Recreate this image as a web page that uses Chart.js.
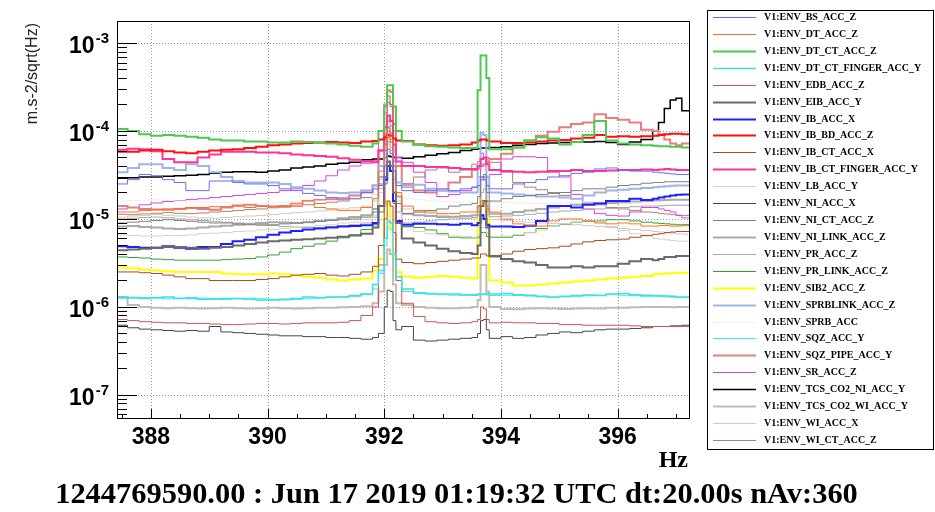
<!DOCTYPE html>
<html>
<head>
<meta charset="utf-8">
<script src="https://cdn.jsdelivr.net/npm/chart.js@4.4.1/dist/chart.umd.min.js"></script>
<style>
  html, body { margin: 0; padding: 0; background: #fff; }
  canvas { display: block; }
</style>
</head>
<body>
<canvas id="spectrum" width="935" height="512"></canvas>
<script>
// ASD of the V1 environmental accelerometers, 387.4 - 397.2 Hz.
// Bin left edges in Hz: 0.2 Hz bins, finer around the 392.1 and 393.7 Hz lines.
const FREQ = [
  387.42, 387.6, 387.8, 388.0, 388.2, 388.4, 388.6, 388.8, 389.0, 389.2, 389.4, 389.6,
  389.8, 390.0, 390.2, 390.4, 390.6, 390.8, 391.0, 391.2, 391.4, 391.6, 391.8,
  391.9, 392.0, 392.05, 392.1, 392.15, 392.2,
  392.3, 392.5, 392.7, 392.9, 393.1, 393.3, 393.5,
  393.6, 393.65, 393.7, 393.75, 393.8,
  394.0, 394.2, 394.4, 394.6, 394.8, 395.0, 395.2, 395.4, 395.6, 395.8, 396.0, 396.2,
  396.4, 396.6, 396.7, 396.8, 396.9, 397.0, 397.1
];
const FREQ_END = 397.24;
const UNIT = 1e-6; // amplitudes below are in 1e-6 m.s-2/sqrt(Hz)

const X_TICKS = [388, 390, 392, 394, 396];
const Y_DECADES = [1e-7, 1e-6, 1e-5, 1e-4, 1e-3];

const CHANNELS = [
  'V1:ENV_BS_ACC_Z', 'V1:ENV_DT_ACC_Z', 'V1:ENV_DT_CT_ACC_Z', 'V1:ENV_DT_CT_FINGER_ACC_Y',
  'V1:ENV_EDB_ACC_Z', 'V1:ENV_EIB_ACC_Y', 'V1:ENV_IB_ACC_X', 'V1:ENV_IB_BD_ACC_Z',
  'V1:ENV_IB_CT_ACC_X', 'V1:ENV_IB_CT_FINGER_ACC_Y', 'V1:ENV_LB_ACC_Y', 'V1:ENV_NI_ACC_X',
  'V1:ENV_NI_CT_ACC_Z', 'V1:ENV_NI_LINK_ACC_Z', 'V1:ENV_PR_ACC_Z', 'V1:ENV_PR_LINK_ACC_Z',
  'V1:ENV_SIB2_ACC_Z', 'V1:ENV_SPRBLINK_ACC_Z', 'V1:ENV_SPRB_ACC', 'V1:ENV_SQZ_ACC_Y',
  'V1:ENV_SQZ_PIPE_ACC_Y', 'V1:ENV_SR_ACC_Z', 'V1:ENV_TCS_CO2_NI_ACC_Y', 'V1:ENV_TCS_CO2_WI_ACC_Y',
  'V1:ENV_WI_ACC_X', 'V1:ENV_WI_CT_ACC_Z'
];

const BS_ACC_Z = [
  25, 28, 32, 31, 28, 26, 21, 21, 27, 27, 26, 25, 25, 24, 22, 21, 19.5, 18.5, 17.5, 16.5, 17, 20, 22,
  24, 40, 62, 55, 35, 24,
  21, 20, 21, 22, 21, 22, 23,
  24, 30, 28, 24, 22,
  22, 25, 26, 28, 30, 31, 33, 34, 37, 38, 36, 35, 35, 34, 33.5, 33, 32.5, 32, 32
];
const DT_ACC_Z = [
  12, 12, 12.5, 12.7, 13, 13.2, 13.5, 13.5, 13.8, 13.8, 14, 13.5, 14, 14, 14, 14, 16, 13.5, 13, 12.5, 12.5, 13.5, 17,
  35, 70, 100, 80, 40, 20,
  14, 12.5, 12, 11.5, 11.5, 12, 12,
  14, 16, 15, 13, 12,
  10, 8.8, 8.5, 8.3, 9.5, 10, 10, 9.5, 9, 8.8, 9, 8.8, 8.3, 8.3, 8.4, 8.4, 8.3, 8.3, 8.4
];
const DT_CT_ACC_Z = [
  105, 100, 92, 88, 90, 88, 86, 84, 80, 78, 78, 76, 76, 74, 74, 76, 75, 73, 72, 70, 68, 66, 72,
  100, 190, 330, 330, 190, 100,
  76, 70, 67, 66, 65, 64, 64,
  290, 720, 720, 400, 62,
  62, 65, 78, 85, 82, 70, 75, 90, 130, 78, 72, 70, 69, 68, 67, 67, 66, 66, 65
];
const DT_CT_FINGER_ACC_Y = [
  1.3, 1.28, 1.25, 1.28, 1.3, 1.25, 1.25, 1.22, 1.22, 1.25, 1.25, 1.22, 1.2, 1.2, 1.22, 1.25, 1.3, 1.28, 1.3, 1.3, 1.35, 1.4, 1.8,
  2.6, 6, 9.5, 9, 4, 2.2,
  1.6, 1.45, 1.42, 1.4, 1.4, 1.38, 1.38,
  1.4, 1.4, 1.4, 1.42, 1.4,
  1.42, 1.38, 1.36, 1.32, 1.3, 1.32, 1.35, 1.37, 1.35, 1.4, 1.42, 1.38, 1.36, 1.35, 1.34, 1.33, 1.32, 1.3, 1.3
];
const EDB_ACC_Z = [
  0.72, 0.7, 0.68, 0.67, 0.66, 0.66, 0.65, 0.65, 0.64, 0.63, 0.63, 0.64, 0.65, 0.65, 0.64, 0.65, 0.66, 0.66, 0.66, 0.67, 0.7, 0.8, 1.0,
  3, 40, 250, 200, 20, 2,
  1.1, 0.78, 0.68, 0.66, 0.65, 0.66, 0.68,
  0.72, 1.0, 0.95, 0.72, 0.66,
  0.67, 0.66, 0.66, 0.65, 0.65, 0.63, 0.63, 0.62, 0.62, 0.62, 0.62, 0.61, 0.6, 0.6, 0.6, 0.6, 0.6, 0.6, 0.6
];
const EIB_ACC_Y = [
  4.4, 4.5, 4.6, 4.7, 4.8, 4.8, 4.7, 4.6, 4.7, 4.8, 5, 5.2, 5.4, 5.6, 5.7, 5.8, 5.9, 6, 6.1, 6.3, 6.5, 6.8, 8,
  14, 30, 45, 40, 20, 9,
  6, 5.4, 5, 4.6, 4.3, 4.1, 4,
  5, 14, 16, 8, 3.8,
  3.5, 3.3, 3.2, 3.0, 2.8, 2.8, 2.9, 2.8, 2.9, 2.9, 3.1, 3.3, 3.5, 3.4, 3.5, 3.7, 3.7, 3.8, 3.8
];
const IB_ACC_X = [
  4.9, 4.8, 4.7, 4.7, 4.9, 4.7, 4.6, 4.8, 4.8, 5.2, 5.6, 5.8, 6.2, 6.6, 7, 7.3, 7.6, 7.8, 8, 8.2, 8.3, 8.5, 9,
  14, 28, 40, 35, 16, 9.5,
  8.6, 8.8, 8.8, 8.7, 8.6, 8.8, 8.5,
  9, 11, 10, 8.6, 8.2,
  8.2, 8.1, 8.4, 9.5, 14, 14, 13.5, 14.5, 15, 16, 16, 17, 16.4, 17, 17.5, 18, 18.5, 18.8, 19
];
const IB_BD_ACC_Z = [
  58, 58, 60, 61, 59, 57, 56, 58, 60, 61, 62, 64, 66, 69, 70, 72, 73, 74, 75, 74, 73, 76, 77,
  80, 85, 90, 88, 82, 78,
  77, 70, 69, 68, 69, 70, 74,
  78, 80, 80, 78, 76,
  73, 73, 74, 76, 78, 79, 82, 84, 90, 86, 87, 86, 87, 88, 90, 92, 93, 93, 92
];
const IB_CT_ACC_X = [
  2.5, 2.5, 2.45, 2.4, 2.3, 2.2, 2.1, 2.1, 2.0, 2.0, 2.0, 2.0, 2.05, 2.1, 2.2, 2.3, 2.35, 2.4, 2.3, 2.25, 2.35, 2.5, 2.9,
  5, 10, 16, 14, 7, 3.5,
  3.2, 3.1, 3.2, 3.3, 3.4, 3.5, 3.6,
  3.6, 4, 4, 3.8, 3.7,
  4, 4.3, 4.5, 4.6, 4.7, 4.9, 5.2, 5.5, 5.7, 5.8, 5.9, 6.2, 6.5, 6.7, 6.8, 7, 7.1, 7.2, 7.2
];
const IB_CT_FINGER_ACC_Y = [
  61, 63, 62, 59, 48, 44, 44, 50, 54, 58, 58, 58, 57, 57, 56, 54, 53, 52, 51, 49, 47, 45, 44,
  60, 110, 150, 130, 70, 45,
  40, 40, 39, 39, 38, 37, 37,
  40, 48, 50, 42, 36,
  35, 34.5, 34, 34.5, 35, 35, 36, 35, 35, 35.5, 36, 36, 36.5, 36, 36.5, 37, 36.5, 36, 36
];
const LB_ACC_Y = [
  6.6, 6.5, 6.4, 6.4, 6.5, 6.5, 6.6, 6.8, 6.9, 7, 7.2, 7.3, 7.5, 7.6, 7.8, 8, 8.2, 8.4, 8.6, 9, 9.2, 9.8, 11,
  20, 45, 70, 60, 25, 12,
  8, 7.2, 6.8, 6.6, 6.4, 6.3, 6.2,
  6.5, 8, 8, 7, 6.3,
  6.4, 6.6, 7, 7.5, 8.2, 8.8, 9.2, 9.5, 9.2, 8.2, 7.4, 6.8, 6.4, 6, 5.9, 5.8, 5.7, 5.6, 5.6
];
const NI_ACC_X = [
  0.62, 0.58, 0.56, 0.55, 0.54, 0.53, 0.54, 0.53, 0.6, 0.52, 0.51, 0.5, 0.49, 0.48, 0.47, 0.47, 0.46, 0.46, 0.45, 0.45, 0.44, 0.43, 0.45,
  0.5, 1.0, 1.55, 1.5, 0.7, 0.55,
  0.6, 0.42, 0.41, 0.42, 0.43, 0.44, 0.45,
  0.5, 0.7, 0.72, 0.55, 0.44,
  0.46, 0.44, 0.45, 0.48, 0.5, 0.52, 0.51, 0.53, 0.55, 0.56, 0.56, 0.57, 0.58, 0.6, 0.6, 0.6, 0.61, 0.61, 0.62
];
const NI_CT_ACC_Z = [
  9, 9.2, 9.4, 9.6, 9.8, 9.6, 9.4, 9.2, 9, 9, 8.8, 8.6, 8.5, 8.6, 8.8, 9, 9.2, 9.4, 9.6, 9.8, 10, 10.5, 12,
  25, 60, 85, 75, 35, 15,
  11.5, 12, 12.5, 13, 14, 14.5, 15,
  18, 30, 32, 20, 16,
  17, 18, 18.5, 19, 19.5, 20, 21, 22, 22, 23, 24, 24.5, 25.5, 26, 26, 26.5, 26.5, 26.5, 26.5
];
const NI_LINK_ACC_Z = [
  8.2, 8.3, 8.1, 8, 7.8, 7.7, 7.8, 8, 8.2, 8.4, 8.6, 8.8, 9, 9.2, 9.1, 9, 9.2, 9.5, 9.8, 10.2, 10.5, 11, 13,
  30, 70, 110, 95, 40, 18,
  11.5, 11, 10.8, 10.5, 10.6, 10.8, 11,
  14, 28, 30, 16, 11.5,
  11.5, 12, 12.5, 13, 13.5, 14, 14.5, 14.8, 15, 15.2, 15.5, 15.8, 16, 16.2, 16.3, 16.4, 16.5, 16.5, 16.5
];
const PR_ACC_Z = [
  10, 10.2, 10.4, 10.5, 10.3, 10, 9.8, 9.6, 9.4, 9.2, 9, 8.8, 8.6, 8.4, 8.2, 8.1, 8, 8, 8.2, 8.4, 8.6, 9, 10.5,
  22, 50, 75, 65, 28, 12,
  9, 9.2, 9.5, 9.8, 10, 10.2, 10.4,
  12, 20, 22, 14, 10.6,
  10.8, 11, 11.3, 11.6, 12, 12.3, 12.5, 12.8, 13, 13.2, 13.5, 13.8, 14, 14, 14.1, 14.2, 14.3, 14.3, 14.3
];
const PR_LINK_ACC_Z = [
  3.7, 3.65, 3.6, 3.5, 3.45, 3.4, 3.4, 3.4, 3.4, 3.45, 3.5, 3.55, 3.7, 3.9, 4.2, 4.6, 4.9, 5.2, 5.6, 6.1, 6.6, 7.6, 8.6,
  12, 25, 40, 35, 15, 9,
  8.2, 8, 7.5, 6.8, 6.2, 6.1, 6.1,
  6.2, 7, 7, 6.3, 6.2,
  6.2, 6.5, 7, 7.8, 8.3, 8.7, 9.2, 9.4, 9.5, 9.8, 9.8, 9.5, 9.2, 9, 8.9, 8.8, 8.7, 8.6, 8.6
];
const SIB2_ACC_Z = [
  2.8, 2.75, 2.65, 2.6, 2.55, 2.5, 2.5, 2.5, 2.5, 2.4, 2.35, 2.35, 2.35, 2.4, 2.35, 2.3, 2.2, 2.15, 2.05, 2.0, 2.05, 2.1, 2.6,
  3.5, 16, 15, 8, 4, 2.5,
  2.2, 2.15, 2.2, 2.25, 2.2, 2.15, 2.1,
  10, 16, 16, 12, 2,
  1.9, 1.75, 1.75, 1.8, 1.85, 1.9, 1.95, 2.0, 2.05, 2.1, 2.15, 2.2, 2.25, 2.35, 2.38, 2.4, 2.42, 2.45, 2.45
];
const SPRBLINK_ACC_Z = [
  34, 38, 42, 42, 38, 36, 42, 40, 34, 30, 27, 26, 26, 26, 25, 23, 22, 21, 20, 19.7, 20, 21, 24,
  40, 80, 110, 95, 45, 26,
  24, 24.5, 22, 21, 20.5, 20, 20,
  40, 95, 90, 30, 20,
  19.5, 19, 18.5, 18, 18, 17.5, 17, 18.5, 20, 21, 21.5, 22, 22.5, 23, 23.2, 23.5, 23.8, 24, 24
];
const SPRB_ACC = [
  16, 16.2, 16.4, 16.5, 16.3, 16, 15.8, 15.6, 15.5, 15.4, 15.2, 15, 15, 15.2, 15.4, 15.6, 15.8, 16, 16.2, 16.4, 16.6, 17, 19,
  30, 60, 80, 70, 35, 20,
  17, 16.5, 16, 15.8, 15.6, 15.5, 15.5,
  17, 24, 24, 18, 15.5,
  15.4, 15.2, 15, 15, 15.2, 15.4, 15.6, 15.6, 15.5, 15.4, 15.2, 15, 14.8, 14.8, 14.7, 14.6, 14.6, 14.5, 14.5
];
const SQZ_ACC_Y = [
  1.25, 1.26, 1.28, 1.26, 1.24, 1.26, 1.28, 1.26, 1.24, 1.22, 1.24, 1.26, 1.24, 1.22, 1.2, 1.22, 1.24, 1.26, 1.28, 1.3, 1.32, 1.38, 1.6,
  2.4, 5, 8, 7.5, 3.5, 2,
  1.5, 1.42, 1.4, 1.38, 1.36, 1.36, 1.35,
  1.36, 1.38, 1.38, 1.36, 1.35,
  1.36, 1.35, 1.33, 1.3, 1.28, 1.3, 1.32, 1.34, 1.36, 1.38, 1.36, 1.34, 1.32, 1.32, 1.31, 1.3, 1.29, 1.28, 1.28
];
const SQZ_PIPE_ACC_Y = [
  14, 13.5, 13, 12.8, 12.7, 13, 13.3, 13, 12.7, 13.5, 14.2, 14.5, 14, 13.8, 14, 15, 16, 16.4, 16.8, 17.2, 18.5, 20, 24,
  60, 200, 290, 280, 120, 40,
  25, 21, 20, 21, 26, 30, 36,
  38, 40, 42, 44, 48,
  55, 65, 78, 88, 98, 110, 120, 125, 155, 140, 134, 125, 103, 100, 92, 80, 72, 69, 72
];
const SR_ACC_Z = [
  13, 13.5, 14.5, 15.2, 15.8, 16.2, 16.6, 17, 17.5, 18, 18.5, 19, 19.5, 20, 21, 22, 24, 27, 31, 36, 40, 43, 46,
  80, 160, 210, 190, 100, 50,
  44, 34, 26, 18, 19, 21, 23,
  30, 56, 50, 30, 32,
  48, 51, 51, 50, 34, 30, 19, 13, 11.5, 11, 10.8, 12, 13.5, 13.5, 13, 12.5, 12, 11, 10.3
];
const TCS_CO2_NI_ACC_Y = [
  29, 29.5, 30, 30, 30.5, 31, 31.5, 32, 33, 34, 34.5, 34.5, 34, 35, 36, 38, 39, 40, 42, 43, 44, 47, 48,
  48, 50, 52, 51, 50, 50,
  49, 51, 53, 55, 57, 60, 62,
  63, 64, 64, 64, 65,
  66, 69, 70, 72, 73, 74, 75, 75, 76, 74, 70, 75, 80, 100, 125, 180, 225, 235, 170
];
const TCS_CO2_WI_ACC_Y = [
  1.3, 1.05, 1.0, 0.98, 0.97, 0.98, 0.97, 0.96, 0.97, 0.98, 0.97, 0.96, 0.97, 0.98, 0.97, 0.96, 0.97, 0.98, 0.98, 0.99, 1.0, 1.02, 1.1,
  1.5, 3, 4.5, 4, 1.8, 1.1,
  1.05, 1.0, 0.98, 0.97, 0.97, 0.98, 1.0,
  1.2, 3, 3, 1.5, 1.0,
  0.95, 0.94, 0.96, 0.97, 0.96, 0.95, 0.96, 0.97, 0.96, 0.98, 0.98, 0.99, 1.0, 1.0, 1.0, 1.0, 0.99, 1.0, 1.0
];
const WI_ACC_X = [
  10.5, 10.8, 11, 11.2, 11, 10.8, 10.5, 10.3, 10.2, 10.4, 10.6, 10.8, 11, 11.2, 11.5, 11.8, 12, 12.3, 12.6, 13, 13.4, 14, 16,
  28, 55, 75, 65, 30, 16,
  13, 12, 11.5, 11, 10.6, 10.2, 10,
  11, 15, 15, 11, 9.8,
  9.6, 9.4, 9.2, 9, 8.9, 8.8, 8.6, 8.4, 8.2, 8, 7.8, 7.6, 7.4, 7.2, 7.1, 7, 6.9, 6.8, 6.7
];
const WI_CT_ACC_Z = [
  11.3, 11.2, 11.4, 11.6, 11.8, 11.6, 11.5, 11.7, 12, 12.2, 12.5, 12.8, 13, 13.4, 13.6, 14, 14.5, 15, 15.5, 16, 16.8, 17.5, 19,
  40, 90, 130, 115, 50, 24,
  23, 30, 36, 38, 34, 36, 42,
  45, 48, 50, 50, 44,
  34, 26, 23, 21.5, 20, 18.5, 17, 15.5, 14.5, 13.5, 13, 12.5, 12, 11.8, 11.5, 11.4, 11.2, 11, 11
];

const AMPLITUDES = [
  BS_ACC_Z, DT_ACC_Z, DT_CT_ACC_Z, DT_CT_FINGER_ACC_Y, EDB_ACC_Z, EIB_ACC_Y, IB_ACC_X,
  IB_BD_ACC_Z, IB_CT_ACC_X, IB_CT_FINGER_ACC_Y, LB_ACC_Y, NI_ACC_X, NI_CT_ACC_Z,
  NI_LINK_ACC_Z, PR_ACC_Z, PR_LINK_ACC_Z, SIB2_ACC_Z, SPRBLINK_ACC_Z, SPRB_ACC,
  SQZ_ACC_Y, SQZ_PIPE_ACC_Y, SR_ACC_Z, TCS_CO2_NI_ACC_Y, TCS_CO2_WI_ACC_Y, WI_ACC_X, WI_CT_ACC_Z
];

const COLORS = [
  '#6b6bff', '#ff7020', '#50c850', '#40dede', '#cc5555', '#6a6a6a', '#2020ff',
  '#ff1010', '#a84a20', '#ff3399', '#d8d0c8', '#444444', '#808080',
  '#aaaaaa', '#a8a8a8', '#2aa82a', '#ffff00', '#a0b4e8', '#eeeeee',
  '#30f0f0', '#e48080', '#dd44dd', '#000000', '#c4bab2', '#d4c8c0', '#b08070'
];
const WIDTHS = [1, 1, 2, 1.5, 1, 2, 2, 2, 1, 2, 1, 1, 1, 2, 1, 1, 2, 2, 1, 1, 2, 1, 1.5, 2, 1, 1];

const TITLE = '1244769590.00 : Jun 17 2019 01:19:32 UTC dt:20.00s nAv:360';

AMPLITUDES.forEach((a, i) => {
  if (a.length !== FREQ.length) throw new Error(CHANNELS[i] + ': ' + a.length + ' bins');
});

// each histogram: one point per bin left edge, held flat up to the next edge
const datasets = AMPLITUDES.map((amp, i) => ({
  label: CHANNELS[i],
  data: FREQ.map((f, j) => ({ x: f, y: amp[j] * UNIT }))
    .concat({ x: FREQ_END, y: amp[amp.length - 1] * UNIT }),
  borderColor: COLORS[i],
  borderWidth: WIDTHS[i],
  stepped: 'before',
  pointRadius: 0,
  fill: false
}));

function line(ctx, x1, y1, x2, y2) {
  ctx.beginPath();
  ctx.moveTo(x1, y1);
  ctx.lineTo(x2, y2);
  ctx.stroke();
}

// dotted grid at the labelled ticks, under the histograms
const dottedGrid = {
  id: 'dottedGrid',
  beforeDatasetsDraw(chart) {
    const { ctx, chartArea: a, scales: { x, y } } = chart;
    ctx.save();
    ctx.strokeStyle = '#9a9a9a';
    ctx.lineWidth = 1;
    ctx.setLineDash([1, 2]);
    X_TICKS.forEach(v => {
      const px = Math.round(x.getPixelForValue(v)) + 0.5;
      line(ctx, px, a.top, px, a.bottom);
    });
    Y_DECADES.forEach(v => {
      const py = Math.round(y.getPixelForValue(v)) + 0.5;
      line(ctx, a.left, py, a.right, py);
    });
    ctx.restore();
  }
};

// frame, inner ticks, decade labels, titles and the boxed legend
const rootStyle = {
  id: 'rootStyle',
  afterDraw(chart) {
    const { ctx, chartArea: a, scales: { x, y } } = chart;
    ctx.save();
    ctx.fillStyle = '#000';
    ctx.strokeStyle = '#000';
    ctx.lineWidth = 1;
    ctx.strokeRect(a.left + 0.5, a.top + 0.5, a.right - a.left - 1, a.bottom - a.top - 1);

    for (let e = -8; e <= -3; e++) {
      for (let k = 1; k <= 9; k++) {
        const v = k * Math.pow(10, e);
        if (v < y.min || v > y.max) continue;
        const py = Math.round(y.getPixelForValue(v)) + 0.5;
        line(ctx, a.left, py, a.left + (k === 1 ? 20 : 10), py);
      }
    }
    for (let h = 775; h <= 794; h++) {
      const f = h / 2;
      const px = Math.round(x.getPixelForValue(f)) + 0.5;
      line(ctx, px, a.bottom, px, a.bottom - (f % 2 === 0 ? 10 : 5));
    }

    ctx.textAlign = 'right';
    ctx.textBaseline = 'alphabetic';
    Y_DECADES.forEach(v => {
      const py = y.getPixelForValue(v);
      const exp = String(Math.round(Math.log10(v)));
      ctx.font = 'bold 15px "Liberation Sans"';
      const ew = ctx.measureText(exp).width;
      ctx.fillText(exp, 109, py);
      ctx.font = 'bold 23px "Liberation Sans"';
      ctx.fillText('10', 108 - ew, py + 10);
    });

    ctx.save();
    ctx.translate(33, 23);
    ctx.rotate(-Math.PI / 2);
    ctx.font = '16px "Liberation Sans"';
    ctx.fillStyle = '#222';
    ctx.textBaseline = 'middle';
    ctx.fillText('m.s-2/sqrt(Hz)', 0, 0);
    ctx.restore();

    ctx.font = 'bold 24px "Liberation Serif"';
    ctx.fillText('Hz', 688, 467);

    ctx.font = 'bold 30px "Liberation Serif"';
    const size = 30 * 803 / ctx.measureText(TITLE).width;
    ctx.font = 'bold ' + size.toFixed(2) + 'px "Liberation Serif"';
    ctx.textAlign = 'center';
    ctx.fillText(TITLE, 456.5, 503);

    ctx.strokeStyle = '#000';
    ctx.lineWidth = 1;
    ctx.strokeRect(707.5, 10.5, 226, 439);
    ctx.textAlign = 'left';
    ctx.textBaseline = 'middle';
    ctx.font = 'bold 10px "Liberation Serif"';
    CHANNELS.forEach((name, i) => {
      const ly = Math.round(17 + i * 16.92) + 0.5;
      ctx.strokeStyle = COLORS[i];
      ctx.lineWidth = WIDTHS[i];
      line(ctx, 713, ly, 756, ly);
      ctx.fillText(name, 764, ly);
    });
    ctx.restore();
  }
};

new Chart(document.getElementById('spectrum'), {
  type: 'line',
  data: { datasets },
  options: {
    responsive: false,
    animation: false,
    devicePixelRatio: 1,
    layout: { padding: { top: 21, right: 245, left: 0, bottom: 0 } },
    plugins: { legend: { display: false }, tooltip: { enabled: false } },
    scales: {
      x: {
        type: 'linear',
        min: 387.42,
        max: FREQ_END,
        afterBuildTicks: s => { s.ticks = X_TICKS.map(v => ({ value: v })); },
        afterFit: s => { s.height = 93; },
        grid: { display: false, drawTicks: false },
        border: { display: false },
        ticks: {
          color: '#000',
          padding: 5,
          maxRotation: 0,
          font: { family: 'Liberation Sans', size: 23, weight: 'bold' }
        }
      },
      y: {
        type: 'logarithmic',
        min: 5.33e-8,
        max: 1.778e-3,
        afterBuildTicks: s => { s.ticks = Y_DECADES.map(v => ({ value: v })); },
        afterFit: s => { s.width = 117; },
        grid: { display: false, drawTicks: false },
        border: { display: false },
        ticks: { display: false }
      }
    }
  },
  plugins: [dottedGrid, rootStyle]
});
</script>
</body>
</html>
